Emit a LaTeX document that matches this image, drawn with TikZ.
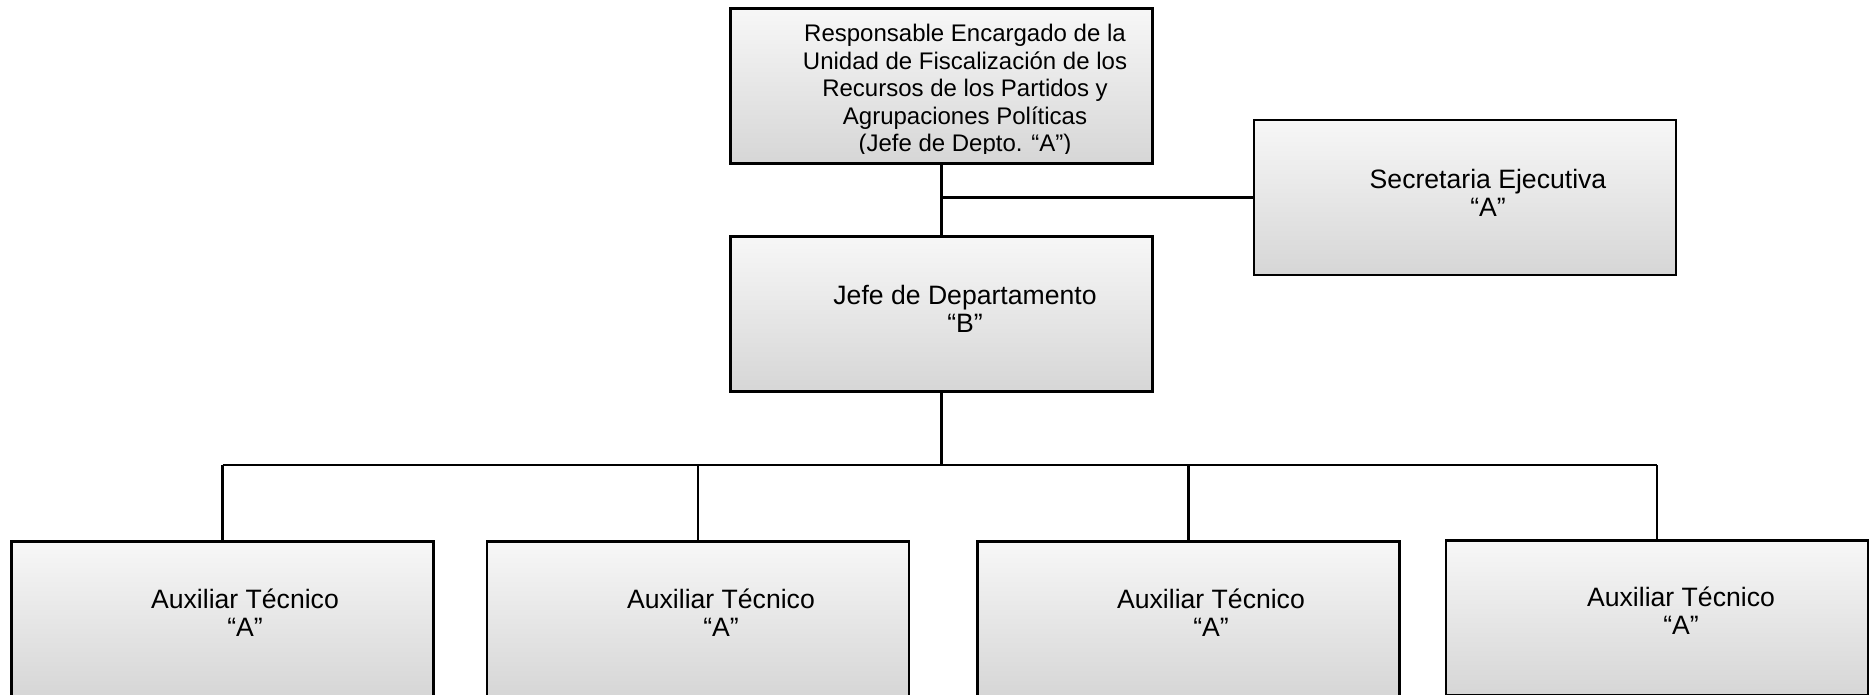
\documentclass[tikz,border=0pt]{standalone}
\usepackage{fontspec}
\setmainfont{Liberation Sans}
\definecolor{boxtop}{HTML}{F7F7F7}
\definecolor{boxbottom}{HTML}{D6D6D6}
\tikzset{
  puesto/.style={draw, line width=1.2pt, top color=boxtop, bottom color=boxbottom,
    minimum width=211pt, minimum height=77.5pt, inner sep=0pt},
  rotulo/.style={align=center, inner sep=0pt, anchor=base,
    font=\fontsize{13.3}{14}\selectfont},
  linea/.style={line width=1.2pt}
}
\begin{document}
\begin{tikzpicture}[x=0.5pt, y=-0.5pt]
    \useasboundingbox (0,0) rectangle (1872,695);
    \clip (0,0) rectangle (1872,695);
    % boxes
    \node[puesto] (responsable) at (941.5,86) {};
    \node[puesto] (secretaria) at (1465,197.5) {};
    \node[puesto] (jefe) at (941.5,314) {};
    \node[puesto] (aux1) at (222.5,619) {};
    \node[puesto] (aux2) at (698,619) {};
    \node[puesto] (aux3) at (1188.5,619) {};
    \node[puesto] (aux4) at (1657,618) {};
    % connectors
    \coordinate (bus) at (941.5,465);
    \draw[linea] (responsable) -- (jefe);
    \draw[linea] (responsable.south |- secretaria.west) -- (secretaria.west);
    \draw[linea] (jefe.south) -- (bus);
    \draw[linea] (aux1.north |- bus) -- (aux4.north |- bus);
    \foreach \n in {1,...,4}
        \draw[linea] (aux\n.north |- bus) -- (aux\n.north);
    % texts (base = last line)
    \begin{scope}
        \clip (730,8) rectangle (1153,153.5);
        \node[rotulo, font=\fontsize{12}{13.75}\selectfont] (t-responsable) at (965,152) {Responsable Encargado de la\\Unidad de Fiscalización de los\\Recursos de los Partidos y\\Agrupaciones Políticas\\(Jefe de Depto. “A”)};
    \end{scope}
    \node[rotulo] (t-secretaria) at (1488,217) {Secretaria Ejecutiva\\“A”};
    \node[rotulo] (t-jefe) at (965,332) {Jefe de Departamento\\“B”};
    \node[rotulo] (t-aux1) at (245,636) {Auxiliar Técnico\\“A”};
    \node[rotulo] (t-aux2) at (721,636) {Auxiliar Técnico\\“A”};
    \node[rotulo] (t-aux3) at (1211,636) {Auxiliar Técnico\\“A”};
    \node[rotulo] (t-aux4) at (1681,634) {Auxiliar Técnico\\“A”};
\end{tikzpicture}
\end{document}
